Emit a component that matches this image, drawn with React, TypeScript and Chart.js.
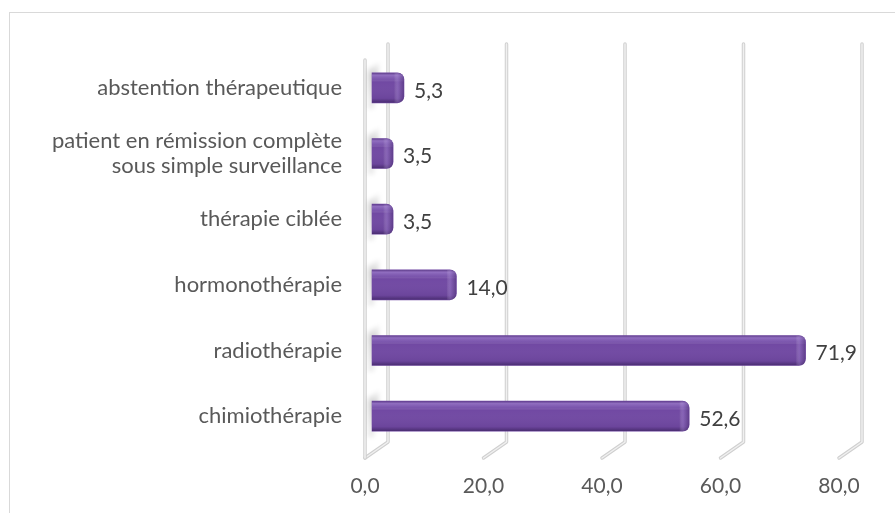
import React, { useEffect, useRef } from "react";
import { Chart, registerables } from "chart.js";

Chart.register(...registerables);

const categories: (string | string[])[] = [
  "abstention thérapeutique",
  ["patient en rémission complète", "sous simple surveillance"],
  "thérapie ciblée",
  "hormonothérapie",
  "radiothérapie",
  "chimiothérapie",
];
const values: number[] = [5.3, 3.5, 3.5, 14.0, 71.9, 52.6];
const tickValues: number[] = [0, 20, 40, 60, 80];

const fmt = (v: number) => v.toFixed(1).replace(".", ",");
const FONT = "Lato";

const wallPlugin = {
  id: "wall",
  beforeDatasetsDraw(chart: any) {
    const { ctx, chartArea } = chart;
    const x2 = chart.scales.x2;
    const dx = 23;
    const topY = chartArea.top - 11;
    const bendY = chartArea.bottom - 7;
    const endY = chartArea.bottom + 9;
    ctx.save();
    ctx.lineCap = "round";
    ctx.lineJoin = "round";
    const drawPath = (pts: number[][]) => {
      const stroke = (w: number, c: string) => {
        ctx.lineWidth = w;
        ctx.strokeStyle = c;
        ctx.beginPath();
        ctx.moveTo(pts[0][0], pts[0][1]);
        for (let i = 1; i < pts.length; i++) ctx.lineTo(pts[i][0], pts[i][1]);
        ctx.stroke();
      };
      stroke(3.5, "#cfcfcf");
      stroke(1.5, "#f0f0f0");
    };
    tickValues.forEach((v) => {
      const fx = x2.getPixelForValue(v);
      const bx = fx + dx;
      drawPath([
        [bx, topY],
        [bx, bendY],
        [fx, endY],
      ]);
      if (v === 0) {
        drawPath([
          [fx, topY + 16],
          [fx, endY],
        ]);
      }
    });
    // soft shadows cast by the bars on the side wall
    const meta = chart.getDatasetMeta(0);
    meta.data.forEach((bar: any) => {
      const p = bar.getProps(["y", "base", "height"], true);
      const top = p.y - p.height / 2;
      const bottom = p.y + p.height / 2;
      const g = ctx.createLinearGradient(0, top - 12, 0, bottom);
      g.addColorStop(0, "rgba(0,0,0,0)");
      g.addColorStop(0.35, "rgba(0,0,0,0.18)");
      g.addColorStop(1, "rgba(0,0,0,0.08)");
      ctx.fillStyle = g;
      ctx.beginPath();
      ctx.moveTo(p.base + 8, top - 12);
      ctx.lineTo(p.base - 4, top - 4);
      ctx.lineTo(p.base - 4, bottom + 6);
      ctx.lineTo(p.base + 2, bottom + 6);
      ctx.closePath();
      ctx.filter = "blur(2px)";
      ctx.fill();
      ctx.filter = "none";
    });
    ctx.restore();
  },
};

const barFxPlugin = {
  id: "barfx",
  afterDatasetsDraw(chart: any) {
    const { ctx } = chart;
    const meta = chart.getDatasetMeta(0);
    ctx.save();
    meta.data.forEach((bar: any, i: number) => {
      const p = bar.getProps(["x", "y", "base", "height"], true);
      const top = p.y - p.height / 2;
      const bottom = p.y + p.height / 2;
      const left = p.base;
      const right = p.x;
      const r = 7;
      ctx.save();
      ctx.beginPath();
      ctx.moveTo(left, top);
      ctx.lineTo(right - r, top);
      ctx.quadraticCurveTo(right, top, right, top + r);
      ctx.lineTo(right, bottom - r);
      ctx.quadraticCurveTo(right, bottom, right - r, bottom);
      ctx.lineTo(left, bottom);
      ctx.closePath();
      ctx.clip();
      const g = ctx.createLinearGradient(0, top, 0, bottom);
      g.addColorStop(0, "rgba(80,50,120,0.6)");
      g.addColorStop(0.08, "rgba(170,140,215,0.55)");
      g.addColorStop(0.22, "rgba(150,120,200,0.25)");
      g.addColorStop(0.3, "rgba(255,255,255,0)");
      g.addColorStop(0.85, "rgba(40,20,70,0.08)");
      g.addColorStop(1, "rgba(40,20,70,0.55)");
      ctx.fillStyle = g;
      ctx.fillRect(left, top, right - left, bottom - top);
      const g2 = ctx.createLinearGradient(right - 10, 0, right, 0);
      g2.addColorStop(0, "rgba(255,255,255,0)");
      g2.addColorStop(0.4, "rgba(170,140,215,0.35)");
      g2.addColorStop(1, "rgba(60,35,95,0.35)");
      ctx.fillStyle = g2;
      ctx.fillRect(right - 10, top, 10, bottom - top);
      ctx.restore();

      ctx.fillStyle = "#404040";
      ctx.font = `21px ${FONT}`;
      ctx.textAlign = "left";
      ctx.textBaseline = "middle";
      ctx.fillText(fmt(values[i]), right + 10, p.y + 3);
    });
    ctx.restore();
  },
};

export default function App() {
  const ref = useRef<HTMLCanvasElement | null>(null);
  useEffect(() => {
    if (!ref.current) return;
    const chart = new Chart(ref.current, {
      type: "bar",
      data: {
        labels: categories,
        datasets: [
          {
            data: values,
            backgroundColor: "#7149a3",
            borderSkipped: "start",
            borderRadius: 7,
            barThickness: 30,
          },
        ],
      },
      options: {
        indexAxis: "y",
        animation: false,
        responsive: false,
        layout: { padding: { top: 55, right: 56, bottom: 0, left: 0 } },
        plugins: { legend: { display: false }, tooltip: { enabled: false } },
        scales: {
          x: {
            display: false,
            min: -1.16,
            max: 77.44,
          },
          x2: {
            type: "linear",
            position: "bottom",
            min: 0,
            max: 80,
            grid: { display: false, drawTicks: false },
            border: { display: false },
            ticks: {
              stepSize: 20,
              padding: 25,
              color: "#595959",
              font: { family: FONT, size: 21 },
              callback: (v: any) => fmt(Number(v)),
            },
            afterFit: (s: any) => {
              s.height = 64;
            },
          },
          y: {
            grid: { display: false, drawTicks: false },
            border: { display: false },
            ticks: {
              padding: 23,
              color: "#595959",
              font: { family: FONT, size: 22, lineHeight: 1.15 },
            },
            afterFit: (s: any) => {
              s.width = 365;
            },
          },
        },
      },
      plugins: [wallPlugin, barFxPlugin],
    });
    return () => chart.destroy();
  }, []);

  return (
    <div
      style={{
        position: "fixed",
        left: 0,
        top: 0,
        width: 895,
        height: 513,
        overflow: "hidden",
        background: "#ffffff",
      }}
    >
      <div
        style={{
          position: "absolute",
          left: 9,
          top: 12,
          width: 900,
          height: 520,
          border: "1px solid #d9d9d9",
        }}
      />
      <canvas
        ref={ref}
        width={895}
        height={513}
        style={{ position: "absolute", left: 0, top: 0, width: 895, height: 513 }}
      />
    </div>
  );
}
